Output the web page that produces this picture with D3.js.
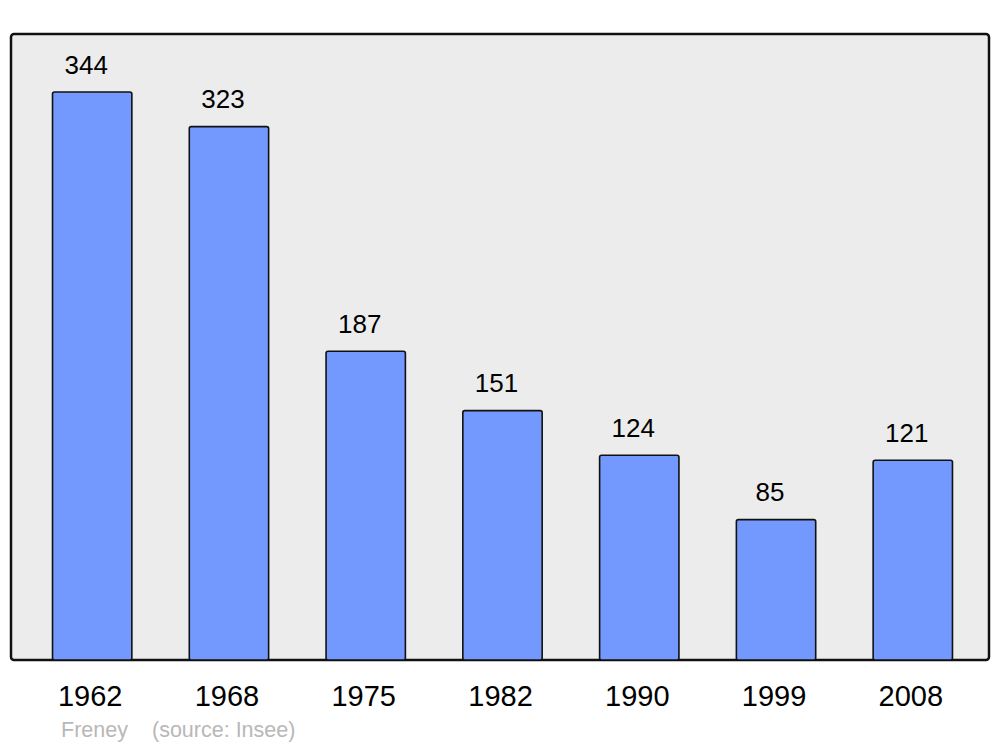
<!DOCTYPE html>
<html>
<head>
<meta charset="utf-8">
<script src="https://cdn.jsdelivr.net/npm/d3@7"></script>
<style>
  html, body { margin: 0; padding: 0; background: #ffffff; }
  text { font-family: "Liberation Sans", Arial, sans-serif; }
</style>
</head>
<body>
<div id="chart"></div>
<script>
/* Data */
var years = ["1962", "1968", "1975", "1982", "1990", "1999", "2008"];
var population = [344, 323, 187, 151, 124, 85, 121];
var townName = "Freney";
var sourceLabel = "(source: Insee)";

/* Canvas size */
var width = 1000,
    height = 747;

/* Frame of the plot area */
var frame = { left: 11, top: 34, right: 989, bottom: 660 };

var svg = d3.select("#chart")
    .append("svg")
    .attr("width", width)
    .attr("height", height);

/* Grey background panel */
svg.append("rect")
    .attr("x", frame.left)
    .attr("y", frame.top)
    .attr("width", frame.right - frame.left)
    .attr("height", frame.bottom - frame.top)
    .attr("rx", 3)
    .attr("fill", "#ececec")
    .attr("stroke", "#111")
    .attr("stroke-width", 2.5);

/* Scales */
var x = d3.scaleBand()
    .domain(years)
    .range([23.8, 981.2])
    .paddingInner(0.42)
    .paddingOuter(0.21);

var y = d3.scaleLinear()
    .domain([0, 344])
    .range([frame.bottom, 92]);

/* Bars */
svg.selectAll(".bar")
    .data(population)
    .enter().append("rect")
    .attr("class", "bar")
    .attr("x", function (d, i) { return x(years[i]); })
    .attr("y", function (d) { return y(d); })
    .attr("width", x.bandwidth())
    .attr("height", function (d) { return frame.bottom - y(d); })
    .attr("rx", 2)
    .attr("fill", "#7399ff")
    .attr("stroke", "#111")
    .attr("stroke-width", 1.6);

/* Value labels above the bars */
svg.selectAll(".value")
    .data(population)
    .enter().append("text")
    .attr("class", "value")
    .attr("x", function (d, i) { return x(years[i]) + x.bandwidth() / 2 - 6; })
    .attr("y", function (d) { return y(d) - 18.5; })
    .attr("text-anchor", "middle")
    .attr("font-size", "26px")
    .attr("fill", "#000")
    .text(function (d) { return d; });

/* Year labels, drawn with an axis without line or ticks */
var xAxis = d3.axisBottom(x).tickSize(0).tickPadding(0);

var axisG = svg.append("g")
    .attr("transform", "translate(-2," + 706 + ")")
    .call(xAxis);

axisG.select(".domain").remove();
axisG.selectAll("text")
    .attr("dy", 0)
    .attr("y", 0)
    .attr("font-size", "29px")
    .attr("font-family", "'Liberation Sans', Arial, sans-serif")
    .attr("fill", "#000");

/* Source line */
svg.append("text")
    .attr("x", 61)
    .attr("y", 737)
    .attr("font-size", "21.5px")
    .attr("fill", "#b8b8b8")
    .text(townName);

svg.append("text")
    .attr("x", 152)
    .attr("y", 737)
    .attr("font-size", "21.5px")
    .attr("fill", "#b8b8b8")
    .text(sourceLabel);
</script>
</body>
</html>
